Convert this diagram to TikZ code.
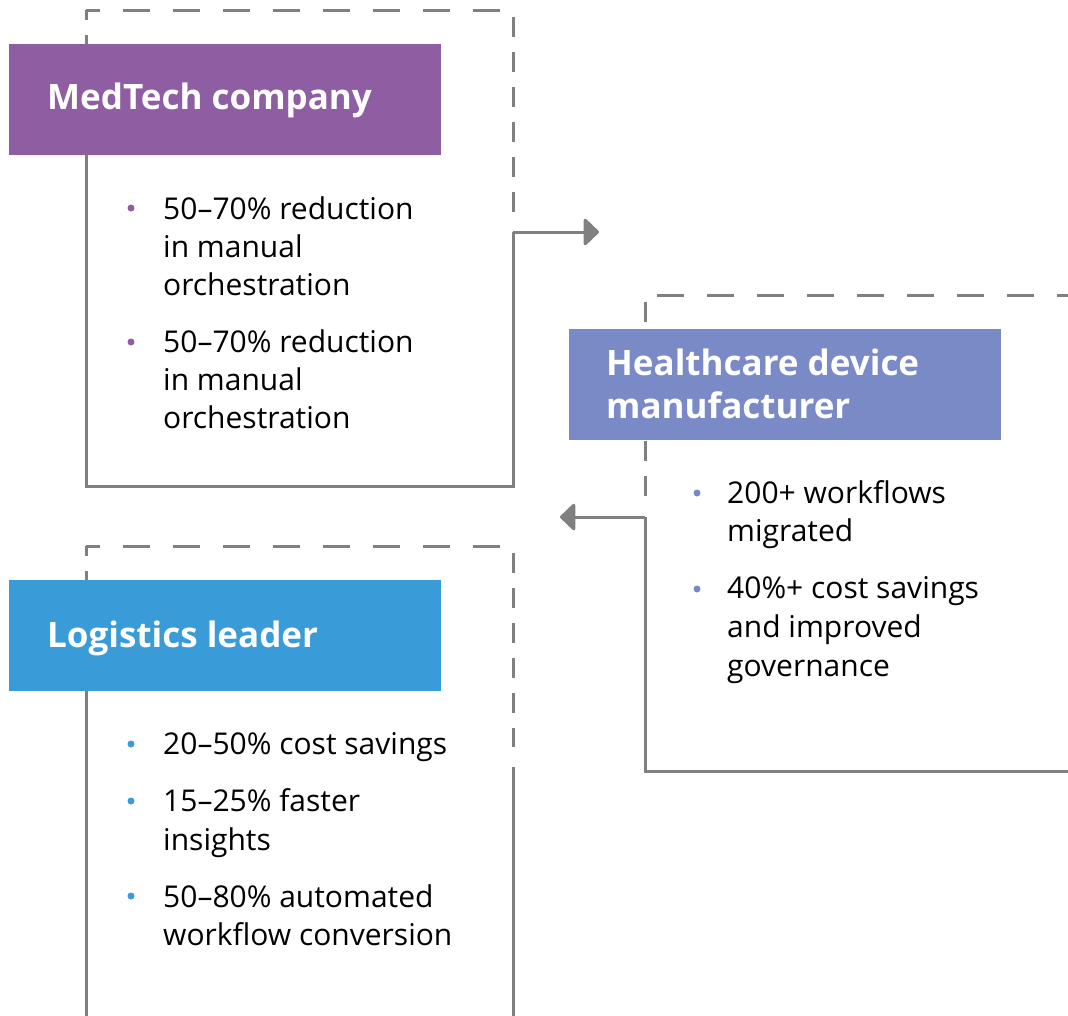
\documentclass[tikz,border=0pt]{standalone}
\usepackage{fontspec}
\setmainfont{Open Sans}
\usetikzlibrary{arrows.meta}
\definecolor{medpurple}{HTML}{8E5DA2}
\definecolor{hcblue}{HTML}{7A8AC7}
\definecolor{logblue}{HTML}{3A9BD9}
\definecolor{linegray}{HTML}{808080}
\tikzset{
  frame/.style={draw=linegray, line width=3pt},
  hdash/.style={frame, dash pattern=on 27pt off 23pt},
  vdash/.style={frame, dash pattern=on 20pt off 15pt},
  conn/.style={draw=linegray, line width=3pt, -{Triangle[length=16pt,width=30pt,round]}},
  hdr/.style={anchor=north west, inner sep=0pt, minimum width=432pt, minimum height=111pt},
  ttl/.style={anchor=base west, inner sep=0pt, text=white, font=\fontsize{35}{43}\selectfont\bfseries},
  body/.style={anchor=base west, inner sep=0pt, text=black, font=\fontsize{30}{38}\selectfont},
}
\begin{document}
\begin{tikzpicture}[x=1pt,y=-1pt]
\clip (0,0) rectangle (1068,1015);
\fill[white] (0,0) rectangle (1068,1015);

% ---------- Box 1: MedTech ----------
\draw[hdash, dash phase=13pt] (86,10) -- (513,10);
\draw[vdash, dash phase=28pt] (513,10) -- (513,212);
\draw[vdash, dash phase=10pt] (86,10) -- (86,44);
\coordinate (a1s) at (513,232);
\coordinate (a1e) at (599,232);
\draw[frame] (a1s) -- (513,486) -- (86,486) -- (86,155);
\node[hdr, fill=medpurple] (h1) at (9,44) {};
\node[ttl] (t1) at (47,109) {MedTech company};
\fill[medpurple] (131,208) circle (3.5pt);
\node[body] (b11a) at (163,219) {50–70\% reduction};
\node[body] (b11b) at (163,257) {in manual};
\node[body] (b11c) at (163,295) {orchestration};
\fill[medpurple] (131,342) circle (3.5pt);
\node[body] (b12a) at (163,352) {50–70\% reduction};
\node[body] (b12b) at (163,390) {in manual};
\node[body] (b12c) at (163,428) {orchestration};
\draw[conn] (a1s) -- (a1e);

% ---------- Box 2: Healthcare ----------
\draw[hdash, dash phase=38pt] (645,295) -- (1080,295);
\draw[vdash, dash phase=28pt] (645,295) -- (645,329);
\draw[vdash] (645,441) -- (645,496);
\coordinate (a2s) at (645,517);
\coordinate (a2e) at (560,517);
\draw[frame] (a2s) -- (645,771) -- (1080,771);
\node[hdr, fill=hcblue] (h2) at (569,329) {};
\node[ttl] (t2a) at (606,375) {Healthcare device};
\node[ttl] (t2b) at (606,418) {manufacturer};
\fill[hcblue] (697,493) circle (3.5pt);
\node[body] (b21a) at (727,503) {200+ workflows};
\node[body] (b21b) at (727,541) {migrated};
\fill[hcblue] (697,589) circle (3.5pt);
\node[body] (b22a) at (727,598) {40\%+ cost savings};
\node[body] (b22b) at (727,637) {and improved};
\node[body] (b22c) at (727,676) {governance};
\draw[conn] (a2s) -- (a2e);

% ---------- Box 3: Logistics ----------
\draw[hdash, dash phase=13pt] (86,546) -- (513,546);
\draw[vdash, dash phase=28pt] (513,546) -- (513,747);
\draw[vdash, dash phase=10pt] (86,546) -- (86,580);
\draw[frame] (513,767) -- (513,1030);
\draw[frame] (86,690) -- (86,1030);
\node[hdr, fill=logblue] (h3) at (9,580) {};
\node[ttl] (t3) at (47,647) {Logistics leader};
\fill[logblue] (131,744) circle (3.5pt);
\node[body] (b31) at (163,754) {20–50\% cost savings};
\fill[logblue] (131,801) circle (3.5pt);
\node[body] (b32a) at (163,811) {15–25\% faster};
\node[body] (b32b) at (163,850) {insights};
\fill[logblue] (131,896) circle (3.5pt);
\node[body] (b33a) at (163,907) {50–80\% automated};
\node[body] (b33b) at (163,945) {workflow conversion};
\end{tikzpicture}
\end{document}
